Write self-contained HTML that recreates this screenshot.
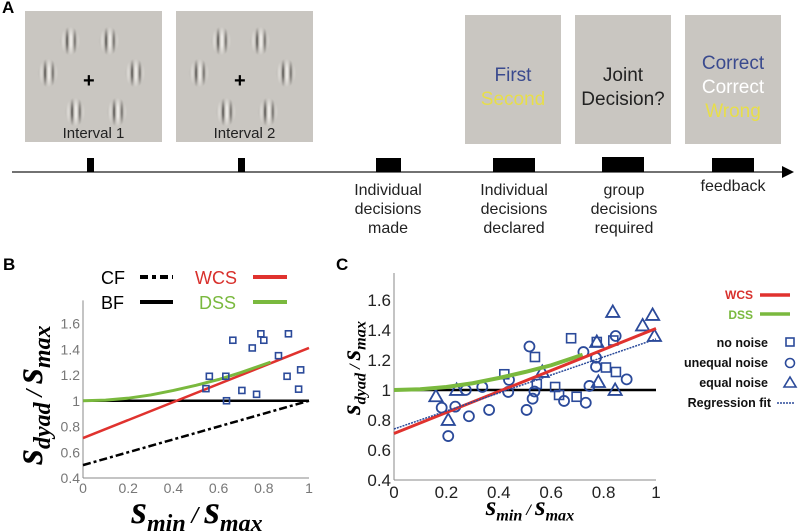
<!DOCTYPE html>
<html><head><meta charset="utf-8"><style>
body{margin:0;width:800px;height:532px;background:#fff;position:relative;overflow:hidden;font-family:"Liberation Sans",sans-serif}
.abs{position:absolute}
.box{position:absolute;background:#c9c6c1}
.gab{position:absolute;width:26px;height:36px;background:repeating-linear-gradient(90deg,#c9c6c1 0px,#55524e 2px,#c9c6c1 4px,#f6f4f0 6px,#c9c6c1 8px);-webkit-mask-image:radial-gradient(ellipse 50% 50% at 50% 50%,#000 25%,transparent 80%);mask-image:radial-gradient(ellipse 50% 50% at 50% 50%,#000 25%,transparent 80%)}
.lbl{position:absolute;text-align:center;font-size:16px;color:#222;line-height:19px}
.ct{position:absolute;text-align:center;font-size:19px;line-height:24px}
</style></head><body>
<div class="abs" style="left:2px;top:-2px;font-size:17px;font-weight:bold">A</div>
<div id="boxes"></div>
<svg class="abs" style="left:0;top:0" width="800" height="532">
<line x1="12" y1="172" x2="785" y2="172" stroke="#444" stroke-width="1.5"/>
<polygon points="782,166 794,172 782,178" fill="#000"/>
<rect x="87" y="158" width="7" height="14" fill="#000"/>
<rect x="238" y="158" width="7" height="14" fill="#000"/>
<rect x="376" y="158" width="25" height="14" fill="#000"/>
<rect x="493" y="158" width="42" height="14" fill="#000"/>
<rect x="602" y="157" width="42" height="15" fill="#000"/>
<rect x="712" y="158" width="42" height="14" fill="#000"/>
</svg>
<div class="lbl" style="left:330px;top:181px;width:116px">Individual<br>decisions<br>made</div>
<div class="lbl" style="left:456px;top:181px;width:116px">Individual<br>decisions<br>declared</div>
<div class="lbl" style="left:566px;top:181px;width:116px">group<br>decisions<br>required</div>
<div class="lbl" style="left:675px;top:177px;width:116px">feedback</div>

<div class="abs" style="left:3px;top:255px;font-size:17px;font-weight:bold">B</div>
<div class="abs" style="left:336px;top:255px;font-size:17px;font-weight:bold">C</div>
<svg id="chartB" class="abs" style="left:0;top:0" width="800" height="532"></svg>
<script>
// Panel B data
const bSquaresX=[0.544,0.559,0.632,0.635,0.663,0.703,0.749,0.768,0.787,0.80,0.865,0.909,0.903,0.954,0.963];
const bSquaresY=[1.094,1.19,1.19,1.0,1.47,1.08,1.41,1.05,1.52,1.47,1.35,1.52,1.19,1.09,1.24];
const bTicksX=[0,0.2,0.4,0.6,0.8,1];
const bTicksXLabels=["0","0.2","0.4","0.6","0.8","1"];
const bTicksY=[0.4,0.6,0.8,1,1.2,1.4,1.6];
const bTicksYLabels=["0.4","0.6","0.8","1","1.2","1.4","1.6"];
const bCF=[[0,0.5],[1,1.0]];
const bBF=[[0,1],[1,1]];
const bWCS=[[0,0.71],[1,1.41]];
const bDSSx=[0,0.1,0.2,0.3,0.4,0.5,0.6,0.7,0.83];
const bDSSy=[1.0,1.005,1.02,1.045,1.08,1.12,1.165,1.22,1.30];
// Panel C data
const cSqX=[0.421,0.538,0.676,0.774,0.809,0.847,0.545,0.615,0.630,0.697,0.837];
const cSqY=[1.105,1.22,1.345,1.32,1.15,1.12,1.04,1.02,0.967,0.955,1.33];
const cCiX=[0.517,0.439,0.436,0.337,0.274,0.363,0.286,0.506,0.529,0.536,0.649,0.732,0.746,0.723,0.771,0.771,0.846,0.888,0.182,0.234,0.207];
const cCiY=[1.29,1.067,0.987,1.02,1.0,0.867,0.825,0.867,0.942,0.99,0.927,0.915,1.027,1.253,1.215,1.155,1.36,1.071,0.882,0.889,0.693];
const cTrX=[0.835,0.987,0.949,0.994,0.780,0.844,0.774,0.239,0.207,0.160,0.566];
const cTrY=[1.52,1.50,1.43,1.36,1.053,1.0,1.32,1.0,0.80,0.958,1.12];
const cBF=[[0,1],[1,1]];
const cWCS=[[0,0.71],[1,1.41]];
const cReg=[[0,0.74],[1,1.34]];
const cDSSx=[0,0.1,0.2,0.3,0.4,0.5,0.6,0.72];
const cDSSy=[1.0,1.005,1.02,1.045,1.08,1.12,1.165,1.235];
const cTicksX=[0,0.2,0.4,0.6,0.8,1];
const cTicksXLabels=["0","0.2","0.4","0.6","0.8","1"];
const cTicksY=[0.4,0.6,0.8,1,1.2,1.4,1.6];
const cTicksYLabels=["0.4","0.6","0.8","1","1.2","1.4","1.6"];

const NS="http://www.w3.org/2000/svg";
const svg=document.getElementById('chartB');
function mk(tag,attrs,parent){const e=document.createElementNS(NS,tag);for(const k in attrs)e.setAttribute(k,attrs[k]);(parent||svg).appendChild(e);return e;}
function axis(x0,x1,yLo,yHi){return {x:v=>x0+v*(x1-x0),y:v=>yLo+(v-0.4)/1.2*(yHi-yLo)};}
const B=axis(83,309,478,323.5);
const C=axis(394,656,480,300);
const blue="#2b4a9a";

function line(ax,pts,stroke,w,dash,name){
  const e=mk('line',{x1:ax.x(pts[0][0]),y1:ax.y(pts[0][1]),x2:ax.x(pts[1][0]),y2:ax.y(pts[1][1]),stroke:stroke,'stroke-width':w});
  if(dash)e.setAttribute('stroke-dasharray',dash);
  
  
}
function curve(ax,xs,ys,stroke,w,name){
  const d=xs.map((v,i)=>(i?'L':'M')+ax.x(v)+','+ax.y(ys[i])).join(' ');
  const e=mk('path',{d:d,stroke:stroke,'stroke-width':w,fill:'none'});
  
  
}
function frame(ax,xt,xl,yt,yl,fs,col,pre){
  mk('line',{x1:ax.x(0),y1:ax.y(0.4),x2:ax.x(1),y2:ax.y(0.4),stroke:'#888','stroke-width':1});
  mk('line',{x1:ax.x(0),y1:ax.y(0.4),x2:ax.x(0),y2:ax.y(1.78),stroke:'#888','stroke-width':1});
  xt.forEach((v,i)=>{const t=mk('text',{x:ax.x(v),y:ax.y(0.4)+fs+1,'text-anchor':'middle','font-size':fs,fill:col});t.textContent=xl[i];
    });
  yt.forEach((v,i)=>{const t=mk('text',{x:ax.x(0)-3,y:ax.y(v)+fs*0.36,'text-anchor':'end','font-size':fs,fill:col});t.textContent=yl[i];
    });
}
function square(ax,x,y,s,name){const e=mk('rect',{x:ax.x(x)-s/2,y:ax.y(y)-s/2,width:s,height:s,fill:'none',stroke:blue,'stroke-width':1.6});
  }
function circ(ax,x,y,r,name){const e=mk('circle',{cx:ax.x(x),cy:ax.y(y),r:r,fill:'none',stroke:blue,'stroke-width':1.8});
  }
function tri(ax,x,y,s,name){const cx=ax.x(x),cy=ax.y(y);
  const e=mk('polygon',{points:`${cx},${cy-s*0.6} ${cx-s*0.6},${cy+s*0.45} ${cx+s*0.6},${cy+s*0.45}`,fill:'none',stroke:blue,'stroke-width':1.8});
  }

// Panel B
frame(B,bTicksX,bTicksXLabels,bTicksY,bTicksYLabels,14,'#777','b');
line(B,bCF,'#000',2.5,'8,3,3,3','cf-line');
line(B,bBF,'#000',2.5,null,'bf-line');
line(B,bWCS,'#e0322e',2.5,null,'wcs-line-b');
curve(B,bDSSx,bDSSy,'#7ab93e',3,'dss-curve-b');
bSquaresX.forEach((v,i)=>square(B,v,bSquaresY[i],6,'b-data-square'));

// Panel C
frame(C,cTicksX,cTicksXLabels,cTicksY,cTicksYLabels,17,'#222','c');
line(C,cBF,'#000',2.5,null,'bf-line-c');
cSqX.forEach((v,i)=>square(C,v,cSqY[i],9,'c-square-no-noise'));
cCiX.forEach((v,i)=>circ(C,v,cCiY[i],5,'c-circle-unequal-noise'));
cTrX.forEach((v,i)=>tri(C,v,cTrY[i],11,'c-triangle-equal-noise'));
curve(C,cDSSx,cDSSy,'#7ab93e',4,'dss-curve-c');
line(C,cWCS,'#e0322e',3,null,'wcs-line-c');
line(C,cReg,'#2b4a9a',1.5,'2,1','regression-line');

// Legend B
function lt(x,y,txt,col,fs,anchor,name){const t=mk('text',{x:x,y:y,'font-size':fs,fill:col,'text-anchor':anchor||'start'});t.textContent=txt;
  return t;}
lt(101,284,'CF','#000',18,'start','legend-cf-label');
mk('line',{x1:140,y1:277,x2:173,y2:277,stroke:'#000','stroke-width':4,'stroke-dasharray':'8,4,4,4'});
lt(195,284,'WCS','#d8302c',18,'start','legend-wcs-label');
mk('line',{x1:253,y1:277,x2:287,y2:277,stroke:'#e0322e','stroke-width':4});
lt(101,309,'BF','#000',18,'start','legend-bf-label');
mk('line',{x1:140,y1:302,x2:173,y2:302,stroke:'#000','stroke-width':4});
lt(199,309,'DSS','#7ab93e',18,'start','legend-dss-label');
mk('line',{x1:253,y1:302,x2:287,y2:302,stroke:'#7ab93e','stroke-width':4});

// Legend C
lt(753,299,'WCS','#d8302c',12,'end','legend-c-wcs').setAttribute('font-weight','bold');
mk('line',{x1:760,y1:295,x2:790,y2:295,stroke:'#e0322e','stroke-width':3.5});
lt(753,319,'DSS','#7ab93e',12,'end','legend-c-dss').setAttribute('font-weight','bold');
mk('line',{x1:760,y1:314,x2:790,y2:314,stroke:'#7ab93e','stroke-width':3.5});
lt(768,347,'no noise','#111',12.5,'end','legend-no-noise').setAttribute('font-weight','bold');
mk('rect',{x:786,y:338,width:8,height:8,fill:'none',stroke:blue,'stroke-width':1.6});
lt(768,367,'unequal noise','#111',12.5,'end','legend-unequal-noise').setAttribute('font-weight','bold');
mk('circle',{cx:790,cy:363,r:4.5,fill:'none',stroke:blue,'stroke-width':1.6});
lt(768,387,'equal noise','#111',12.5,'end','legend-equal-noise').setAttribute('font-weight','bold');
mk('polygon',{points:'790,377 784,387 796,387',fill:'none',stroke:blue,'stroke-width':1.6});
lt(771,407,'Regression fit','#111',12.5,'end','legend-regression').setAttribute('font-weight','bold');
mk('line',{x1:777,y1:403,x2:795,y2:403,stroke:blue,'stroke-width':1.5,'stroke-dasharray':'2,1'});

// axis titles
function title(x,y,fs,rot,name,parts){
  const t=mk('text',{x:x,y:y,'font-size':fs,'font-family':'Liberation Serif, serif','font-weight':'bold','font-style':'italic','text-anchor':'middle',fill:'#000'});
  if(rot)t.setAttribute('transform',`rotate(-90 ${x} ${y})`);
  
  parts.forEach(p=>{const s=mk('tspan',{},t);s.textContent=p[0];if(p[1])s.setAttribute('font-size',fs*0.6);if(p[1]==='sub')s.setAttribute('dy',fs*0.2);if(p[1]==='up')s.setAttribute('dy',-fs*0.2);});
}
title(42,395,40,true,'b-y-axis-title',[['s'],['dyad','sub'],[' / ','up'],['s'],['max','sub']]);
title(197,523,40,false,'b-x-axis-title',[['s'],['min','sub'],[' / ','up'],['s'],['max','sub']]);
title(360,368,27,true,'c-y-axis-title',[['s'],['dyad','sub'],[' / ','up'],['s'],['max','sub']]);
title(530,515,27,false,'c-x-axis-title',[['s'],['min','sub'],[' / ','up'],['s'],['max','sub']]);

// Panel A boxes
const bx=document.getElementById('boxes');
function addBox(l,t,w,h,name){const d=document.createElement('div');d.className='box';d.style.cssText=`left:${l}px;top:${t}px;width:${w}px;height:${h}px`;
  bx.appendChild(d);return d;}
[[25,'stimulus-interval-1','Interval 1'],[176,'stimulus-interval-2','Interval 2']].forEach(([l,n,txt])=>{
  const d=addBox(l,11,137,131,n);
  [[32,12],[71,12],[10,44],[97,44],[37,83],[79,83]].forEach(p=>{const g=document.createElement('div');g.className='gab';g.style.left=p[0]+'px';g.style.top=p[1]+'px';
    d.appendChild(g);});
  const c=document.createElement('div');c.textContent='+';c.style.cssText='position:absolute;left:58px;top:60px;font-size:20px;font-weight:bold;line-height:20px';
  d.appendChild(c);
  const lab=document.createElement('div');lab.textContent=txt;lab.style.cssText='position:absolute;left:0;width:137px;text-align:center;top:114px;font-size:15px;color:#222';
  d.appendChild(lab);
});
function boxText(l,name,html){const d=addBox(l,15,96,129,name);const t=document.createElement('div');t.className='ct';t.style.cssText='position:absolute;left:0;width:96px;text-align:center;font-size:19px;line-height:24px;top:'+(html.length>2?37:49)+'px';
  html.forEach(([s,c])=>{const p=document.createElement('div');p.textContent=s;p.style.color=c;t.appendChild(p);});
  d.appendChild(t);}
boxText(465,'screen-declare',[['First','#3a4a8e'],['Second','#e7de4a']]);
boxText(575,'screen-joint-decision',[['Joint','#222'],['Decision?','#222']]);
boxText(685,'screen-feedback',[['Correct','#3a4a8e'],['Correct','#fff'],['Wrong','#e7de4a']]);
</script>
</body></html>
